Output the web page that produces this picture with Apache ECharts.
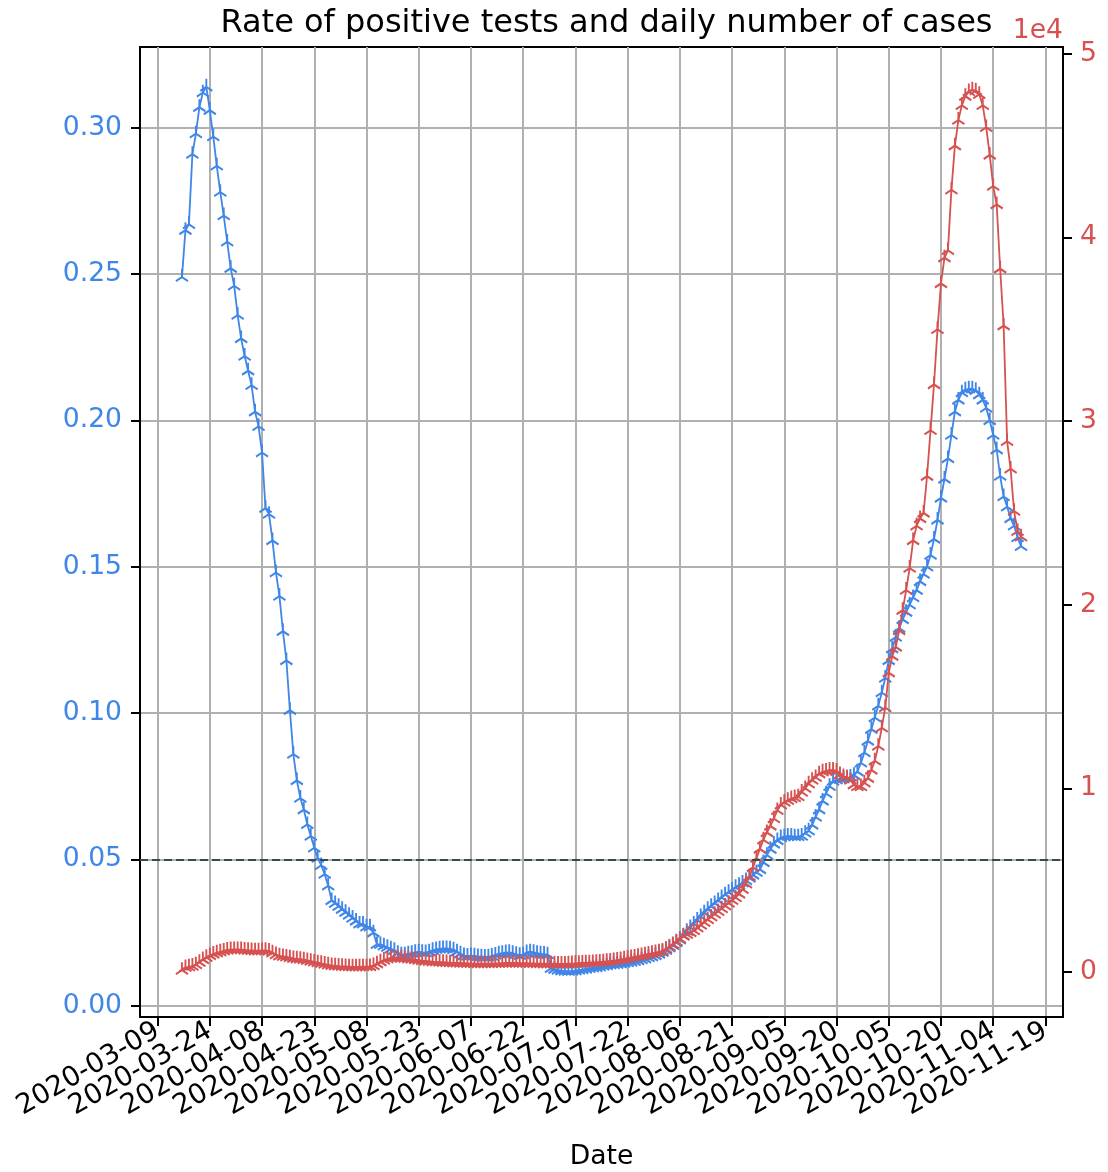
<!DOCTYPE html>
<html>
<head>
<meta charset="utf-8">
<script src="https://cdn.jsdelivr.net/npm/echarts@6/dist/echarts.min.js"></script>
<style>html,body{margin:0;padding:0;background:#fff}#c{width:1108px;height:1172px}</style>
</head>
<body>
<div id="c"></div>
<script>
// ---- data ----
const startDate = '2020-03-16';   // first daily observation
const xTickLabels = ['2020-03-09','2020-03-24','2020-04-08','2020-04-23','2020-05-08','2020-05-23','2020-06-07','2020-06-22','2020-07-07','2020-07-22','2020-08-06','2020-08-21','2020-09-05','2020-09-20','2020-10-05','2020-10-20','2020-11-04','2020-11-19'];
const leftTicks = [0, 0.05, 0.10, 0.15, 0.20, 0.25, 0.30];
const rightTicks = [0, 10000, 20000, 30000, 40000, 50000];
const threshold = 0.05;

const positiveRate = [
0.249,0.265,0.267,0.291,0.298,0.307,0.312,0.314,0.306,0.297,
0.287,0.278,0.270,0.261,0.252,0.246,0.236,0.228,0.222,0.217,
0.212,0.203,0.198,0.189,0.170,0.168,0.159,0.148,0.140,0.128,
0.118,0.101,0.086,0.077,0.071,0.067,0.062,0.058,0.054,0.0505,
0.048,0.045,0.041,0.036,0.035,0.034,0.033,0.032,0.031,0.030,
0.029,0.028,0.028,0.027,0.027,0.025,0.021,0.021,0.0205,0.020,
0.0195,0.019,0.018,0.0175,0.0175,0.0178,0.018,0.0183,0.0185,0.0183,
0.0182,0.0185,0.019,0.0193,0.0195,0.0196,0.0196,0.0195,0.0192,0.0185,
0.0178,0.0172,0.017,0.0172,0.0171,0.0169,0.0168,0.0167,0.0168,0.017,
0.0174,0.0178,0.018,0.0182,0.0183,0.018,0.0176,0.0173,0.0175,0.0182,
0.0185,0.0183,0.018,0.0178,0.0177,0.0175,0.0128,0.0125,0.0122,0.012,
0.0119,0.0118,0.0119,0.012,0.0122,0.0124,0.0126,0.0128,0.013,0.0131,
0.0133,0.0136,0.0138,0.014,0.0141,0.0142,0.0144,0.0146,0.0148,0.015,
0.0152,0.0155,0.0158,0.0161,0.0165,0.0168,0.0172,0.0177,0.0183,0.019,
0.0198,0.0207,0.0216,0.0226,0.024,0.0255,0.0268,0.028,0.0293,0.0305,
0.0318,0.033,0.034,0.035,0.036,0.037,0.038,0.0388,0.0396,0.0405,
0.0412,0.042,0.0428,0.0437,0.0447,0.0456,0.0466,0.049,0.0515,0.0535,
0.0553,0.0565,0.0575,0.0578,0.058,0.058,0.0578,0.0578,0.058,0.059,
0.0598,0.0618,0.0645,0.067,0.07,0.0725,0.075,0.0768,0.0772,0.0775,
0.0776,0.0778,0.0782,0.0788,0.08,0.083,0.0865,0.0905,0.0945,0.0985,
0.1025,0.107,0.112,0.118,0.122,0.126,0.129,0.132,0.1345,0.137,
0.1395,0.142,0.145,0.1475,0.15,0.154,0.1595,0.166,0.1735,0.18,
0.187,0.195,0.203,0.207,0.2095,0.2105,0.2108,0.2108,0.2103,0.2088,
0.207,0.2042,0.2,0.195,0.19,0.181,0.174,0.1705,0.1665,0.164,
0.16,0.157
];

const dailyCases = [
100,250,280,320,400,530,680,800,900,980,
1050,1100,1150,1200,1220,1230,1230,1220,1200,1180,
1170,1160,1160,1170,1180,1150,1050,950,880,850,
820,780,740,720,700,670,630,590,550,510,
470,430,390,360,340,320,310,300,290,280,
280,280,290,290,300,350,450,560,650,720,
760,780,780,760,740,720,700,670,650,620,
600,580,560,550,540,530,520,510,500,500,
490,480,470,470,460,460,460,460,460,460,
470,470,480,490,490,490,490,480,480,480,
470,470,460,460,450,450,450,450,440,440,
440,450,460,470,480,490,500,510,520,530,
540,560,580,600,620,650,680,720,760,790,
820,860,900,940,980,1020,1060,1100,1150,1250,
1380,1500,1650,1800,1950,2050,2150,2250,2400,2550,
2700,2850,3000,3150,3300,3450,3600,3750,3900,4050,
4250,4500,4800,5200,5700,6200,6700,7200,7600,7950,
8350,8800,9100,9250,9350,9450,9500,9550,9800,10000,
10250,10450,10600,10800,10900,10950,11000,11000,10950,10750,
10650,10600,10450,10200,10100,10100,10300,10550,11000,11500,
12300,13300,14400,16300,17200,17700,18600,19700,20800,22000,
23500,24300,24700,25000,27000,29500,32000,35000,37500,38900,
39300,42600,45000,46400,47200,47700,47950,48050,48000,47800,
47200,46000,44500,42800,41800,38300,35200,28900,27400,25100,
24000,23700
];

// ---- build ----
const DAY = 86400000;
const t0 = Date.parse(startDate + 'T00:00:00Z');
const dates = positiveRate.map((_, i) => t0 + i * DAY);
const blueData = positiveRate.map((v, i) => [dates[i], v]);
const redData = dailyCases.map((v, i) => [dates[i], v]);
const xTicks = xTickLabels.map(s => Date.parse(s + 'T00:00:00Z'));
const xSpan = dates[dates.length - 1] - dates[0];
const xMin = dates[0] - 0.05 * xSpan;
const xMax = dates[dates.length - 1] + 0.05 * xSpan;
// edge placeholders (hidden by showMin/MaxLabel:false) so every real label is kept
const xTicksPadded = [xMin].concat(xTicks, [xMax]);

const BLUE = '#3f86e8';
const RED = '#d65150';
const FONT = 'DejaVu Sans';
const FS = 26.6;
const tri = 'path://M0,0L0,-10M0,0L-8.66,5M0,0L8.66,5M0,10';

function pad(n){return (n<10?'0':'')+n;}
function fmtDate(v){
  if (v <= xMin + 1 || v >= xMax - 1) return '';
  const d=new Date(v);return d.getUTCFullYear()+'-'+pad(d.getUTCMonth()+1)+'-'+pad(d.getUTCDate());
}

const chart = echarts.init(document.getElementById('c'), null, {renderer: 'canvas'});
chart.setOption({
  animation: false,
  backgroundColor: '#fff',
  title: {
    text: 'Rate of positive tests and daily number of cases',
    left: 601.5, textAlign: 'center', top: 3,
    textStyle: {fontFamily: FONT, fontSize: 32, fontWeight: 'normal', color: '#000'}
  },
  grid: {left: 140, right: 45, top: 47, bottom: 155, containLabel: false, outerBoundsMode: 'none', show: true, borderColor: '#000', borderWidth: 2, backgroundColor: 'transparent'},
  xAxis: {
    type: 'value', min: xMin, max: xMax, scale: true,
    name: 'Date', nameLocation: 'middle', nameGap: 127,
    nameTextStyle: {fontFamily: FONT, fontSize: FS, color: '#000'},
    axisLine: {show: true, onZero: false, lineStyle: {color: '#000', width: 2}},
    axisTick: {show: true, customValues: xTicksPadded, length: 9, lineStyle: {color: '#000', width: 2}},
    axisLabel: {customValues: xTicksPadded, rotate: 30, margin: 12, formatter: fmtDate, showMinLabel: false, showMaxLabel: false, fontFamily: FONT, fontSize: 27.5, color: '#000'},
    splitLine: {show: true, lineStyle: {color: '#b0b0b0', width: 2}}
  },
  yAxis: [
    {
      type: 'value', position: 'left', min: -0.0038, max: 0.3276,
      axisLine: {show: true, onZero: false, lineStyle: {color: '#000', width: 2}},
      axisTick: {show: true, customValues: leftTicks, length: 9, lineStyle: {color: '#000', width: 2}},
      axisLabel: {customValues: leftTicks, margin: 18, formatter: v => v.toFixed(2), fontFamily: FONT, fontSize: FS, color: BLUE},
      splitLine: {show: true, lineStyle: {color: '#b0b0b0', width: 2}}
    },
    {
      type: 'value', position: 'right', min: -2451, max: 50380,
      name: '1e4', nameLocation: 'end', nameGap: 2,
      nameTextStyle: {fontFamily: FONT, fontSize: FS, color: RED, align: 'right', verticalAlign: 'bottom'},
      axisLine: {show: true, onZero: false, lineStyle: {color: '#000', width: 2}},
      axisTick: {show: true, customValues: rightTicks, length: 9, lineStyle: {color: '#000', width: 2}},
      axisLabel: {customValues: rightTicks, margin: 17, formatter: v => String(Math.round(v / 10000)), fontFamily: FONT, fontSize: FS, color: RED},
      splitLine: {show: false}
    }
  ],
  series: [
    {
      type: 'line', name: 'rate', xAxisIndex: 0, yAxisIndex: 0, data: blueData,
      symbol: tri, symbolKeepAspect: true, symbolSize: [14, 16], showSymbol: true, showAllSymbol: true,
      lineStyle: {color: BLUE, width: 1.8},
      itemStyle: {color: BLUE, borderColor: BLUE, borderWidth: 2},
      markLine: {
        silent: true, symbol: ['none', 'none'], label: {show: false},
        lineStyle: {color: '#2f4f4f', type: [8, 4], width: 2},
        data: [{yAxis: threshold}]
      },
      z: 2
    },
    {
      type: 'line', name: 'cases', xAxisIndex: 0, yAxisIndex: 1, data: redData,
      symbol: tri, symbolKeepAspect: true, symbolSize: [14, 16], showSymbol: true, showAllSymbol: true,
      lineStyle: {color: RED, width: 1.8},
      itemStyle: {color: RED, borderColor: RED, borderWidth: 2},
      z: 3
    }
  ]
});
</script>
</body>
</html>
